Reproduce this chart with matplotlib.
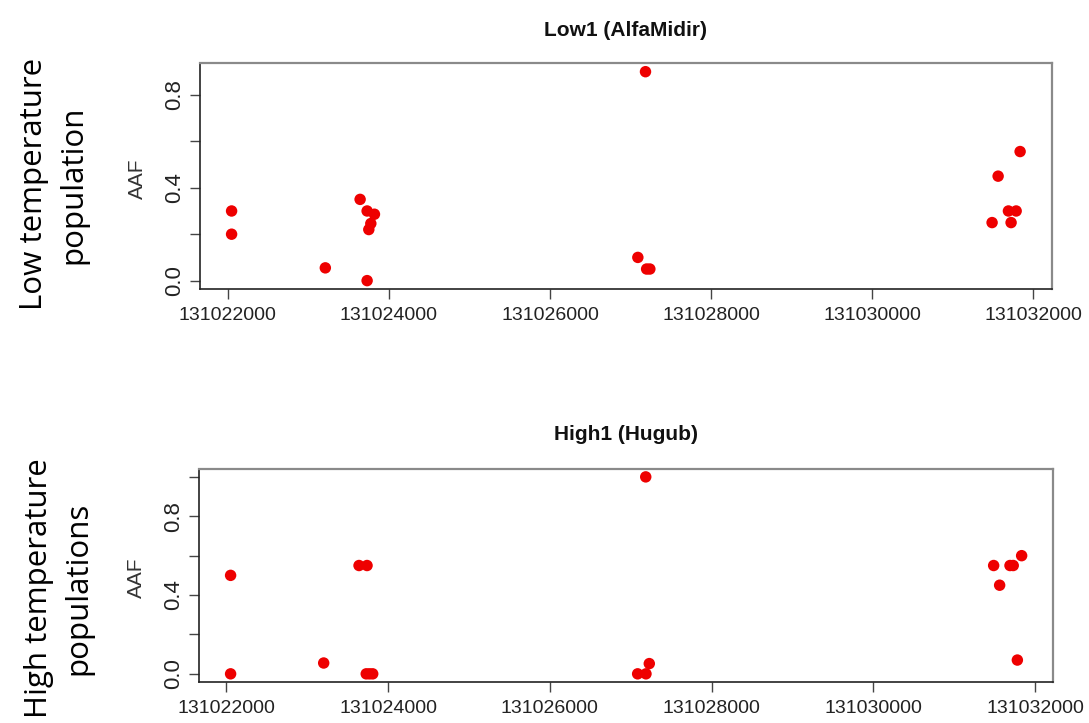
import matplotlib
matplotlib.use("Agg")
import matplotlib.pyplot as plt
import numpy as np

# ---- data ----
low_pos = [131022046, 131022046, 131023210, 131023642, 131023729, 131023820,
           131023775, 131023750, 131023729, 131027186, 131027091, 131027200,
           131027240, 131031838, 131031565, 131031693, 131031789, 131031490,
           131031726]
low_aaf = [0.30, 0.20, 0.055, 0.35, 0.30, 0.286, 0.246, 0.22, 0.0, 0.90, 0.10,
           0.05, 0.05, 0.556, 0.45, 0.30, 0.30, 0.25, 0.25]

high_pos = [131022053, 131022053, 131023204, 131023641, 131023740, 131023730,
            131023770, 131023810, 131027186, 131027086, 131027189, 131027230,
            131031488, 131031562, 131031690, 131031730, 131031834, 131031781]
high_aaf = [0.50, 0.0, 0.055, 0.55, 0.55, 0.0, 0.0, 0.0, 1.0, 0.0, 0.0, 0.052,
            0.55, 0.45, 0.55, 0.55, 0.60, 0.07]

x_ticks = [131022000, 131024000, 131026000, 131028000, 131030000, 131032000]
x_ticklabels = ["131022000", "131024000", "131026000", "131028000",
                "131030000", "131032000"]
y_ticks_low = [0.0, 0.2, 0.4, 0.6, 0.8]
y_ticks_high = [0.0, 0.2, 0.4, 0.6, 0.8, 1.0]
y_labelled = [0.0, 0.4, 0.8]

titles = ["Low1 (AlfaMidir)", "High1 (Hugub)"]
side_labels = ["Low temperature\npopulation", "High temperature\npopulations"]

plt.rcParams['font.family'] = ['Liberation Sans', 'DejaVu Sans']

fig = plt.figure(figsize=(10.89, 7.23), dpi=100)
ax1 = fig.add_axes([0.1837, 0.6003, 0.7820, 0.3121])
ax2 = fig.add_axes([0.1827, 0.0571, 0.7845, 0.2942])


def r_lim(vals):
    lo, hi = min(vals), max(vals)
    d = (hi - lo) * 0.04
    return lo - d, hi + d


for ax, pos, aaf, yt, title, pad in [
        (ax1, low_pos, low_aaf, y_ticks_low, titles[0], 20),
        (ax2, high_pos, high_aaf, y_ticks_high, titles[1], 21)]:
    ax.scatter(pos, aaf, s=68, color='#ee0000', edgecolors='none', zorder=3)
    ax.set_xlim(*r_lim(pos))
    ax.set_ylim(*r_lim(aaf))
    ax.set_xticks(x_ticks)
    ax.set_xticklabels(x_ticklabels, fontsize=14, color='#222222')
    ax.set_yticks(yt)
    ax.set_yticklabels([f"{v:.1f}" if v in y_labelled else "" for v in yt],
                       fontsize=16, rotation=90, va='center', color='#222222')
    ax.tick_params(axis='both', length=7, width=1, color='#444444')
    ax.tick_params(axis='x', pad=6)
    ax.tick_params(axis='y', pad=4)
    for s in ['top', 'right']:
        ax.spines[s].set_color('#8a8a8a')
        ax.spines[s].set_linewidth(1.6)
    for s in ['bottom', 'left']:
        ax.spines[s].set_color('#222222')
        ax.spines[s].set_linewidth(1.2)
    ax.set_ylabel("AAF", fontsize=15, color='#333333')
    ax.yaxis.set_label_coords(-0.062, 0.49)
    ax.set_title(title, fontsize=15, fontweight='bold', pad=pad, color='#111111')

fig.text(0.049, 0.745, side_labels[0], rotation=90, ha='center', va='center',
         fontsize=22.5, family=['Open Sans', 'DejaVu Sans'], linespacing=1.4)
fig.text(0.054, 0.186, side_labels[1], rotation=90, ha='center', va='center',
         fontsize=22.5, family=['Open Sans', 'DejaVu Sans'], linespacing=1.4)

fig.savefig("out.png", dpi=100)
